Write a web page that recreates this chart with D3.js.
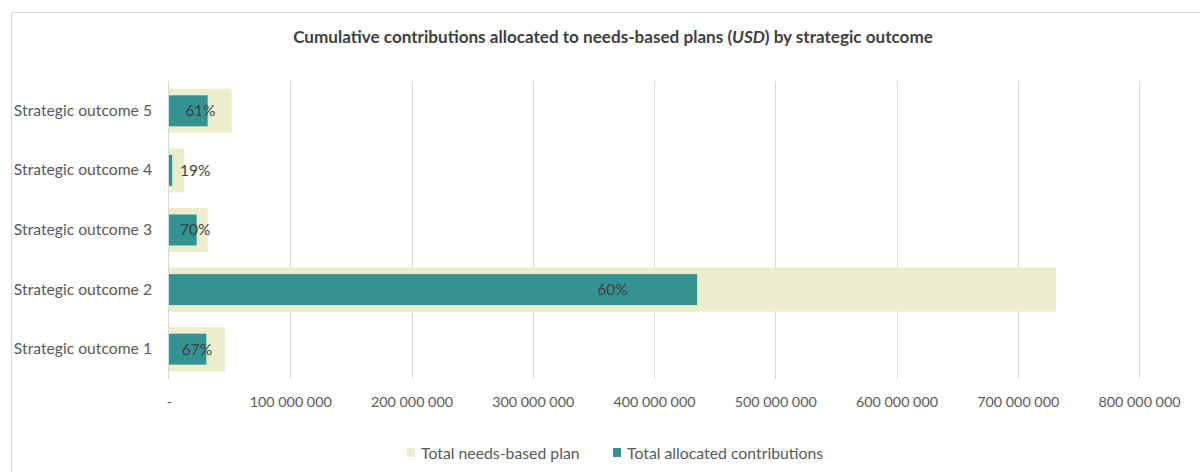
<!DOCTYPE html>
<html>
<head>
<meta charset="utf-8">
<script src="https://cdn.jsdelivr.net/npm/d3@7"></script>
<style>
  body { margin: 0; background: #fff; }
  svg { display: block; font-family: Lato, "Open Sans", sans-serif; }
</style>
</head>
<body>
<svg id="chart" width="1200" height="472"></svg>
<script>
const categories = ["Strategic outcome 1", "Strategic outcome 2", "Strategic outcome 3", "Strategic outcome 4", "Strategic outcome 5"];
const needsBasedPlan = [46200000, 731600000, 31900000, 12600000, 51700000];
const allocatedContributions = [30800000, 435600000, 22800000, 2600000, 31900000];
const percentLabels = ["67%", "60%", "70%", "19%", "61%"];
const tickValues = [0, 100000000, 200000000, 300000000, 400000000, 500000000, 600000000, 700000000, 800000000];
const tickLabels = ["-", "100 000 000", "200 000 000", "300 000 000", "400 000 000", "500 000 000", "600 000 000", "700 000 000", "800 000 000"];
const seriesNames = ["Total needs-based plan", "Total allocated contributions"];
const colors = ["#ebedcc", "#339393"];

const svg = d3.select("#chart");
const textColor = "#595959";

// chart frame
svg.append("path").attr("d", "M11.5,472 L11.5,12.5 L1200,12.5")
  .attr("fill", "none").attr("stroke", "#d9d9d9").attr("stroke-width", 1);

// title
const title = svg.append("text").attr("x", 613).attr("y", 43)
  .attr("text-anchor", "middle").attr("font-size", 17.1).attr("font-weight", "bold")
  .attr("fill", "#404040");
title.append("tspan").text("Cumulative contributions allocated to needs-based plans (");
title.append("tspan").attr("font-style", "italic").text("USD");
title.append("tspan").text(") by strategic outcome");

const plotLeft = 169, plotRight = 1139, plotTop = 81, plotBottom = 379;
const x = d3.scaleLinear().domain([0, 800000000]).range([plotLeft, plotRight]);
const y = d3.scaleBand().domain(categories.slice().reverse()).range([plotTop, plotBottom]);

// gridlines
svg.append("g").selectAll("line").data(tickValues.slice(1)).join("line")
  .attr("x1", d => Math.round(x(d)) + 0.5).attr("x2", d => Math.round(x(d)) + 0.5)
  .attr("y1", plotTop).attr("y2", plotBottom)
  .attr("stroke", "#d9d9d9").attr("stroke-width", 1);

// x axis tick labels
const xAxis = d3.axisBottom(x).tickValues(tickValues)
  .tickFormat((d, i) => tickLabels[i]).tickSize(0).tickPadding(0);
const gx = svg.append("g").attr("transform", `translate(0,${plotBottom + 18})`).call(xAxis);
gx.select(".domain").remove();
gx.selectAll("text").attr("font-size", 14.3).attr("fill", textColor)
  .attr("font-family", "Lato, 'Open Sans', sans-serif");

const totalH = y.bandwidth() * 0.74;
const allocH = y.bandwidth() * 0.52;

// total bars
svg.append("g").selectAll("rect").data(categories).join("rect")
  .attr("x", x(0))
  .attr("y", d => y(d) + (y.bandwidth() - totalH) / 2)
  .attr("width", (d, i) => x(needsBasedPlan[i]) - x(0))
  .attr("height", totalH)
  .attr("fill", colors[0]);

// allocated bars
svg.append("g").selectAll("rect").data(categories).join("rect")
  .attr("x", x(0))
  .attr("y", d => y(d) + (y.bandwidth() - allocH) / 2)
  .attr("width", (d, i) => x(allocatedContributions[i]) - x(0))
  .attr("height", allocH)
  .attr("fill", colors[1]);

// y axis line
svg.append("line").attr("x1", plotLeft - 0.5).attr("x2", plotLeft - 0.5)
  .attr("y1", plotTop).attr("y2", plotBottom).attr("stroke", "#d9d9d9").attr("stroke-width", 1);

// category labels
const yAxis = d3.axisLeft(y).tickSize(0).tickPadding(0);
const gy = svg.append("g").attr("transform", `translate(${plotLeft - 17},0)`).call(yAxis);
gy.select(".domain").remove();
gy.selectAll("text").attr("font-size", 15.7).attr("fill", textColor)
  .attr("font-family", "Lato, 'Open Sans', sans-serif");

// percent labels, centred on total bar, kept inside plot
const labels = svg.append("g").selectAll("text").data(categories).join("text")
  .attr("y", d => y(d) + y.bandwidth() / 2)
  .attr("dy", "0.35em")
  .attr("font-size", 15.5).attr("fill", "#404040")
  .attr("text-anchor", "middle")
  .text((d, i) => percentLabels[i]);
labels.each(function(d, i) {
  const w = this.getComputedTextLength();
  const c = (x(0) + x(needsBasedPlan[i])) / 2;
  d3.select(this).attr("x", Math.max(c, plotLeft + 11 + w / 2));
});

// legend
const legend = svg.append("g");
const legendX = [407, 613];
seriesNames.forEach((name, i) => {
  legend.append("rect").attr("x", legendX[i]).attr("y", 448).attr("width", 8).attr("height", 9)
    .attr("fill", colors[i]);
  legend.append("text").attr("x", legendX[i] + 14).attr("y", 458.5)
    .attr("font-size", 15.8).attr("fill", textColor).text(name);
});
</script>
</body>
</html>
